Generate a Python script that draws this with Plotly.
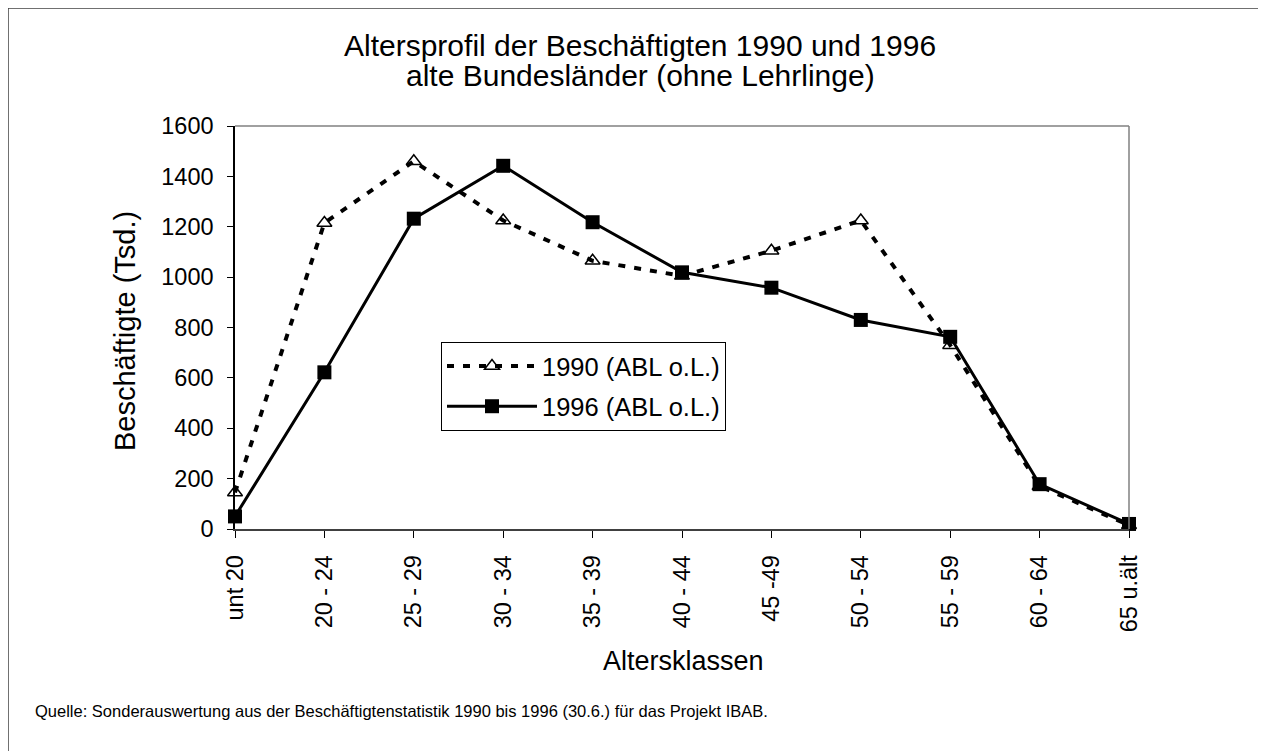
import plotly.graph_objects as go

categories = ["unt 20", "20 - 24", "25 - 29", "30 - 34", "35 - 39", "40 - 44",
              "45 -49", "50 - 54", "55 - 59", "60 - 64", "65 u.ält"]
values_1990 = [145, 1215, 1460, 1225, 1065, 1005, 1105, 1225, 730, 170, 15]
values_1996 = [50, 622, 1232, 1442, 1218, 1019, 958, 830, 763, 178, 20]
name_1990 = "1990 (ABL o.L.)"
name_1996 = "1996 (ABL o.L.)"
title_lines = ["Altersprofil der Beschäftigten 1990 und 1996", "alte Bundesländer (ohne Lehrlinge)"]
x_title = "Altersklassen"
y_title = "Beschäftigte (Tsd.)"
source = "Quelle: Sonderauswertung aus der Beschäftigtenstatistik 1990 bis 1996 (30.6.) für das Projekt IBAB."

FONT = "Liberation Sans, Arial, sans-serif"
OFF = 8  # page body margin
W, H = 1266 - OFF, 751 - OFF
# plot area in page coordinates
PL, PR, PT, PB = 235, 1129, 126, 529
L, R, T, B = PL - OFF, PR - OFF, PT - OFF, PB - OFF

x_idx = list(range(len(categories)))

fig = go.Figure()
fig.add_trace(go.Scatter(
    x=x_idx, y=values_1990, name=name_1990, mode="lines+markers",
    line=dict(color="black", width=4, dash="7px,9px"),
    marker=dict(symbol="triangle-up-open", size=13, color="black",
                line=dict(color="black", width=1.5)),
    cliponaxis=False, legendgroup="a"))
fig.add_trace(go.Scatter(
    x=x_idx, y=values_1996, name=name_1996, mode="lines+markers",
    line=dict(color="black", width=3),
    marker=dict(symbol="square", size=14, color="black"),
    cliponaxis=False, legendgroup="b"))

def px(xp):  # page x -> paper x
    return (xp - PL) / (PR - PL)

def py(yp):  # page y -> paper y
    return (PB - yp) / (PB - PT)

shapes = [
    dict(type="line", xref="paper", yref="paper", x0=0, x1=1, y0=1, y1=1,
         line=dict(color="#808080", width=1.5)),
    dict(type="line", xref="paper", yref="paper", x0=1, x1=1, y0=0, y1=1,
         line=dict(color="#808080", width=1.5)),
    dict(type="line", xref="paper", yref="paper", x0=px(8), x1=px(8), y0=py(8), y1=py(760),
         line=dict(color="#404040", width=1.5)),
    dict(type="line", xref="paper", yref="paper", x0=px(8), x1=px(1275), y0=py(8), y1=py(8),
         line=dict(color="#404040", width=1.5)),
]

annotations = [
    dict(text=title_lines[0], xref="paper", yref="paper", x=px(640), y=py(45),
         xanchor="center", yanchor="middle", showarrow=False,
         font=dict(size=30, family=FONT, color="black")),
    dict(text=title_lines[1], xref="paper", yref="paper", x=px(640), y=py(76),
         xanchor="center", yanchor="middle", showarrow=False,
         font=dict(size=30, family=FONT, color="black")),
    dict(text=x_title, xref="paper", yref="paper", x=px(683), y=py(661),
         xanchor="center", yanchor="middle", showarrow=False,
         font=dict(size=27, family=FONT, color="black")),
    dict(text=y_title, xref="paper", yref="paper", x=px(125), y=py(331),
         xanchor="center", yanchor="middle", showarrow=False, textangle=-90,
         font=dict(size=29, family=FONT, color="black")),
    dict(text=source, xref="paper", yref="paper", x=px(33), y=py(711),
         xanchor="left", yanchor="middle", showarrow=False,
         font=dict(size=16.5, family=FONT, color="black")),
]

fig.update_layout(
    width=W, height=H,
    margin=dict(l=L, r=W - R, t=T, b=H - B, pad=0),
    paper_bgcolor="white", plot_bgcolor="white",
    font=dict(family=FONT, color="black"),
    showlegend=True,
    legend=dict(x=px(441), y=py(342), xanchor="left", yanchor="top",
                bordercolor="black", borderwidth=1, bgcolor="white",
                font=dict(size=25.5, family=FONT, color="black"),
                itemwidth=90, tracegroupgap=4, traceorder="grouped"),
    shapes=shapes,
    annotations=annotations,
)

fig.update_xaxes(
    range=[0, len(categories) - 1], tickmode="array", tickvals=x_idx, ticktext=categories,
    tickangle=-90, tickfont=dict(size=23.5, family=FONT), ticklabelstandoff=8,
    showline=True, linecolor="#404040", linewidth=1.5,
    ticks="outside", ticklen=7, tickcolor="black",
    showgrid=False, zeroline=False,
)
fig.update_yaxes(
    range=[0, 1600], tickmode="array", tickvals=[0, 200, 400, 600, 800, 1000, 1200, 1400, 1600],
    tickfont=dict(size=23.5, family=FONT), ticklabelstandoff=9,
    showline=True, linecolor="black", linewidth=1.5,
    ticks="outside", ticklen=6, tickcolor="black",
    showgrid=False, zeroline=False,
)

fig.write_html("out.html")
